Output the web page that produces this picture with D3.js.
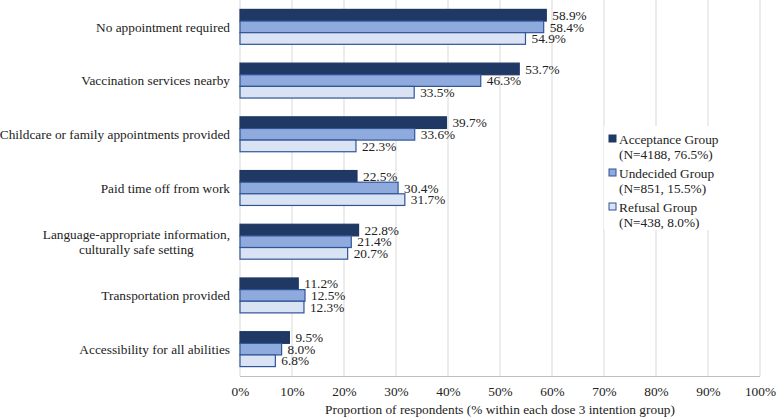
<!DOCTYPE html>
<html><head><meta charset="utf-8">
<script src="https://cdn.jsdelivr.net/npm/d3@7"></script>
<style>body{margin:0;background:#fff}svg{display:block}</style>
</head><body><svg id="c" width="777" height="418" style="font-family:'Liberation Serif','Times New Roman',serif"></svg>
<script>
const categories = ["No appointment required","Vaccination services nearby","Childcare or family appointments provided","Paid time off from work","Language-appropriate information,|culturally safe setting","Transportation provided","Accessibility for all abilities"];
const acceptance = [58.9,53.7,39.7,22.5,22.8,11.2,9.5];
const undecided = [58.4,46.3,33.6,30.4,21.4,12.5,8.0];
const refusal = [54.9,33.5,22.3,31.7,20.7,12.3,6.8];
const seriesNames = [["Acceptance Group","(N=4188, 76.5%)"],["Undecided Group","(N=851, 15.5%)"],["Refusal Group","(N=438, 8.0%)"]];
const xTicks = [0,10,20,30,40,50,60,70,80,90,100];
const xTitle = "Proportion of respondents (% within each dose 3 intention group)";

const FF = "'Liberation Serif','Times New Roman',serif";
const FS = 13.33;
const series = [acceptance, undecided, refusal];
const fills = ["#1F3864","#8FAADC","#DAE3F3"];
const strokes = ["#1F3864","#2F5597","#2F5597"];
const svg = d3.select("#c");
const L=240,R=760,T=0,B=376;
const x = d3.scaleLinear().domain([0,100]).range([L,R]);
const y = d3.scaleBand().domain(categories).range([T,B]).paddingInner(0.35).paddingOuter(0.175);
const yi = d3.scaleBand().domain([0,1,2]).range([0,y.bandwidth()]);

function txt(sel,size){return sel.attr("font-family",FF).style("font-family",FF).style("font-size",size+"px").attr("fill","#222");}

svg.append("g").selectAll("line").data(xTicks).join("line")
 .attr("x1",d=>x(d)).attr("x2",d=>x(d)).attr("y1",T).attr("y2",B)
 .attr("stroke","#D9D9D9").attr("stroke-width",1);
svg.append("line").attr("x1",L).attr("x2",R).attr("y1",B+0.5).attr("y2",B+0.5).attr("stroke","#BFBFBF");

const xa = d3.axisBottom(x).tickValues(xTicks).tickFormat(d=>d+"%").tickSize(0).tickPadding(11);
const gx = svg.append("g").attr("transform",`translate(0,${B})`).call(xa);
gx.attr("font-family",FF);
gx.select(".domain").remove();
txt(gx.selectAll("text"),FS);
txt(svg.append("text").attr("x",x(50)).attr("y",414).attr("text-anchor","middle"),FS).text(xTitle);

categories.forEach(c=>{
  const lines = c.split("|");
  const cy = y(c)+y.bandwidth()/2;
  const t = txt(svg.append("text").attr("x",230).attr("text-anchor","end"),FS);
  const spans = lines.map((ln,i)=>t.append("tspan").attr("x",230).attr("y",cy + (i-(lines.length-1)/2)*15.5).attr("dy","0.35em").text(ln));
  if(lines.length>1){
    const maxW = d3.max(spans, s=>s.node().getComputedTextLength());
    t.attr("text-anchor","middle");
    spans.forEach(s=>s.attr("x",230-maxW/2));
  }
});

series.forEach((s,si)=>{
  const g = svg.append("g");
  g.selectAll("rect").data(s).join("rect")
   .attr("x",x(0)).attr("y",(d,i)=>y(categories[i])+yi(si))
   .attr("width",d=>x(d)-x(0)).attr("height",yi.bandwidth())
   .attr("fill",fills[si]).attr("stroke",strokes[si]).attr("stroke-width",1.2);
  txt(g.selectAll("text").data(s).join("text")
   .attr("x",d=>x(d)+6).attr("y",(d,i)=>y(categories[i])+yi(si)+yi.bandwidth()/2)
   .attr("dy","0.35em"),FS).text(d=>d.toFixed(1)+"%");
});

const lg = svg.append("g");
lg.append("rect").attr("x",604).attr("y",126).attr("width",118).attr("height",104).attr("fill","#fff");
seriesNames.forEach((n,i)=>{
  const yy = 139 + i*34;
  lg.append("rect").attr("x",609).attr("y",yy-4).attr("width",7).attr("height",7)
   .attr("fill",fills[i]).attr("stroke",strokes[i]).attr("stroke-width",1);
  const t = txt(lg.append("text").attr("x",619),FS);
  t.append("tspan").attr("x",619).attr("y",yy).attr("dy","0.35em").text(n[0]);
  t.append("tspan").attr("x",619).attr("y",yy+15).attr("dy","0.35em").text(n[1]);
});
</script></body></html>
